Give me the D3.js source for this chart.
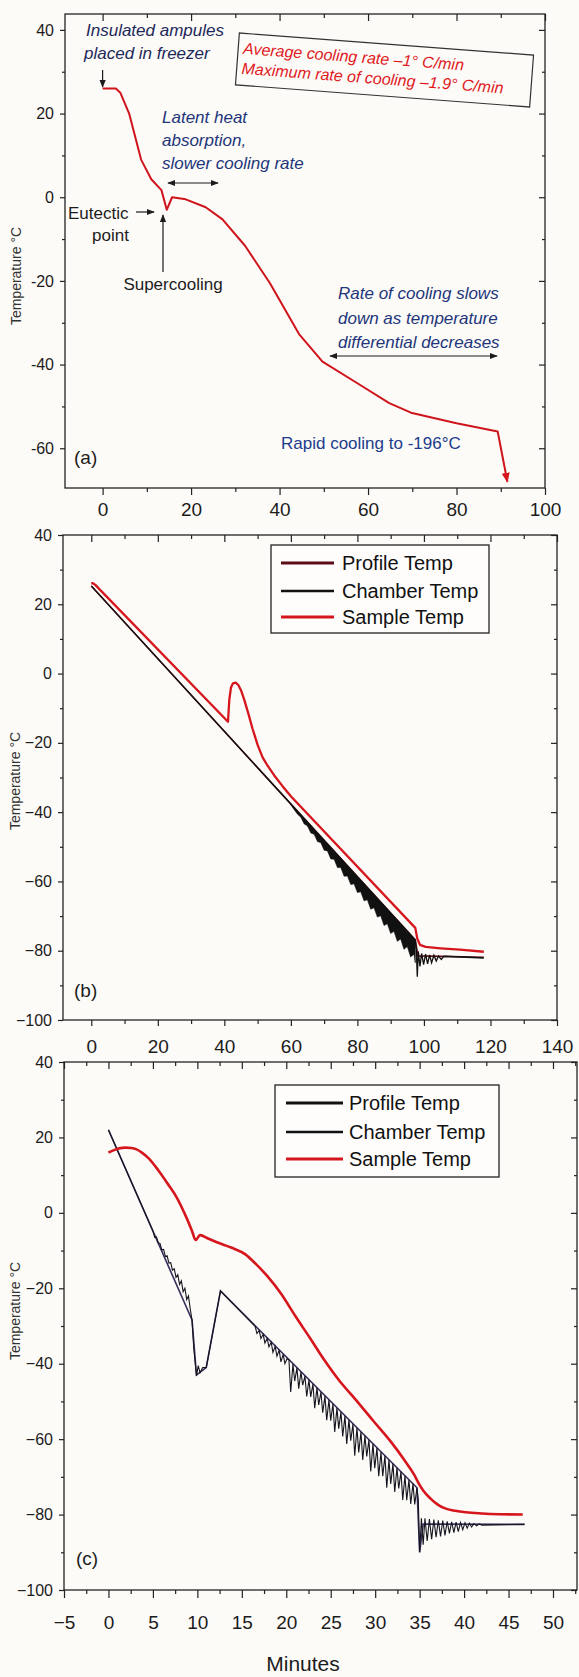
<!DOCTYPE html>
<html><head><meta charset="utf-8">
<script src="https://cdn.jsdelivr.net/npm/d3@7"></script>
<style>
body{margin:0;background:#fcfbf8;}
svg{display:block;}
text{font-family:"Liberation Sans",Arial,Helvetica,sans-serif;}
</style></head>
<body><svg id="chart" width="579" height="1677"></svg>
<script>
// ================= DATA =================
// Panel (a): sample temperature (minutes, °C)
const sampleA = [[0,26],[3,26],[4,25],[6,20],[8.7,9],[11,4.3],[13.3,1.7],[14.5,-3],[15.7,0],[18.8,-0.5],[23.3,-2.4],[27.1,-5.3],[32.2,-11.6],[37.8,-20.5],[44.4,-32.7],[49.7,-39.3],[57.5,-44.4],[64.8,-49.2],[69.7,-51.5],[80,-54],[89.3,-56],[91.5,-68]];
const xTicksA = [0,20,40,60,80,100];
const xMinorA = [10,30,50,70,90];
const yTicksA = [40,20,0,-20,-40,-60];
const yMinorA = [30,10,-10,-30,-50];

// Panel (b)
const profileB = [[0,25.3],[97.4,-76.9],[98.2,-81.5],[118,-81.9]];
const chamberB = [[0,25.3],[97.4,-76.9],[97.7,-79.5],[98.0,-87.5],[98.3,-80.2],[98.8,-84.5],[99.3,-80.8],[99.9,-84.0],[100.5,-81.0],[101.1,-83.8],[101.7,-81.2],[102.3,-83.5],[103.0,-81.3],[103.7,-83.0],[104.4,-81.5],[105.2,-82.5],[106,-81.6],[118,-82.1]];
// chamber oscillation band: [minute, upper, lower]
const chamberBandB = [[60,-37.6,-37.9],[61,-38.7,-39.3],[62,-39.7,-40.6],[63,-40.8,-41.5],[64,-41.8,-43.4],[65,-42.9,-44.0],[66,-43.9,-46.0],[67,-45.0,-46.4],[68,-46.0,-48.5],[69,-47.1,-48.8],[70,-48.1,-51.0],[71,-49.2,-51.2],[72,-50.2,-53.5],[73,-51.3,-53.6],[74,-52.3,-56.0],[75,-53.4,-56.0],[76,-54.4,-58.5],[77,-55.5,-58.4],[78,-56.5,-60.9],[79,-57.6,-60.7],[80,-58.6,-63.2],[81,-59.7,-63.0],[82,-60.7,-65.6],[83,-61.8,-65.3],[84,-62.8,-68.0],[85,-63.9,-67.6],[86,-64.9,-70.3],[87,-66.0,-69.9],[88,-67.0,-72.7],[89,-68.1,-72.2],[90,-69.1,-75.0],[91,-70.2,-74.4],[92,-71.2,-77.3],[93,-72.3,-76.6],[94,-73.3,-79.6],[95,-74.4,-78.8],[96,-75.4,-81.8],[97,-76.5,-81.0],[97.4,-76.9,-83.5]];
const sampleB = [[0,26],[0.5,26.1],[1.2,25.6],[41.1,-13.9],[41.5,-7.5],[42.0,-4.0],[42.6,-2.8],[43.4,-2.6],[44.2,-3.3],[45.0,-4.8],[46.0,-7.6],[47.2,-11.5],[48.5,-16.0],[50,-20.6],[51.5,-24.2],[53,-26.6],[55,-29.4],[57.5,-32.5],[60,-35.4],[97.4,-73.4],[98,-76.5],[98.8,-78.3],[100.5,-78.9],[105,-79.3],[110.8,-79.7],[118,-80.3]];
const xTicksB = [0,20,40,60,80,100,120,140];
const xMinorB = [10,30,50,70,90,110,130];
const yTicksB = [40,20,0,-20,-40,-60,-80,-100];
const yMinorB = [30,10,-10,-30,-50,-70,-90];

// Panel (c)
const profileC = [[0,22],[9.4,-28.4],[9.9,-43],[11,-41],[12.6,-20.7],[34.7,-72.9],[35,-90],[35.4,-82.5],[46.8,-82.6]];
const chamberC = [[0,22],[5.0,-4.8],[5.2,-6.5],[5.4,-6.4],[5.6,-8.0],[5.8,-8.1],[6.0,-9.8],[6.2,-9.7],[6.4,-11.6],[6.6,-11.4],[6.8,-13.3],[7.0,-13.2],[7.2,-15.2],[7.4,-14.8],[7.6,-17.1],[7.8,-16.4],[8.0,-19.0],[8.2,-18.0],[8.4,-20.9],[8.6,-20.0],[8.8,-23.0],[9.0,-22.0],[9.2,-25.5],[9.4,-28.4],[9.6,-36.0],[9.9,-43.2],[10.1,-40.5],[10.3,-42.4],[10.6,-41.0],[11.0,-41.0],[12.6,-20.7],[16.5,-30.1],[16.7,-32.0],[16.95,-31.2],[17.15,-33.3],[17.4,-32.2],[17.6,-34.5],[17.85,-33.3],[18.05,-35.5],[18.3,-34.3],[18.5,-37.0],[18.75,-35.4],[18.95,-38.0],[19.2,-36.4],[19.4,-39.5],[19.65,-37.5],[19.85,-40.0],[20.1,-38.6],[20.30,-39.0],[20.50,-47.5],[20.75,-40.1],[20.95,-44.6],[21.20,-41.1],[21.40,-46.6],[21.65,-42.2],[21.85,-45.7],[22.10,-43.3],[22.30,-48.7],[22.55,-44.3],[22.75,-48.8],[23.00,-45.4],[23.20,-51.8],[23.45,-46.4],[23.65,-50.9],[23.90,-47.5],[24.10,-53.0],[24.35,-48.6],[24.55,-55.0],[24.80,-49.6],[25.00,-55.1],[25.25,-50.7],[25.45,-58.1],[25.70,-51.7],[25.90,-57.2],[26.15,-52.8],[26.35,-59.3],[26.60,-53.8],[26.80,-61.3],[27.05,-54.9],[27.25,-60.4],[27.50,-56.0],[27.70,-64.4],[27.95,-57.0],[28.15,-63.5],[28.40,-58.1],[28.60,-65.5],[28.85,-59.1],[29.05,-64.6],[29.30,-60.2],[29.50,-68.6],[29.75,-61.2],[29.95,-67.7],[30.20,-62.3],[30.40,-69.8],[30.65,-63.4],[30.85,-69.8],[31.10,-64.4],[31.30,-72.9],[31.55,-65.5],[31.75,-71.9],[32.00,-66.5],[32.20,-74.0],[32.45,-67.6],[32.65,-73.1],[32.90,-68.6],[33.10,-76.1],[33.35,-69.7],[33.55,-76.2],[33.80,-70.8],[34.00,-77.2],[34.25,-71.8],[34.45,-77.3],[34.70,-72.9],[34.85,-76.0],[35.00,-90.0],[35.2,-81.0],[35.4,-88.0],[35.6,-81.0],[35.85,-87.0],[36.1,-81.2],[36.35,-86.5],[36.6,-81.3],[36.85,-86.0],[37.1,-81.5],[37.35,-85.8],[37.6,-81.6],[37.85,-85.5],[38.1,-81.8],[38.35,-85.0],[38.6,-81.9],[38.85,-84.8],[39.1,-82.0],[39.35,-84.5],[39.6,-82.1],[39.85,-84.0],[40.1,-82.2],[40.35,-83.6],[40.6,-82.3],[40.85,-83.3],[41.1,-82.4],[41.4,-83.0],[41.7,-82.5],[42.0,-82.8],[46.8,-82.6]];
const sampleC = [[0,16],[0.5,16.5],[1.2,17.1],[1.9,17.3],[2.6,17.2],[3.1,16.9],[3.8,15.9],[4.5,14.5],[5.6,11.3],[6.7,7.6],[7.7,4.0],[8.8,-1.4],[9.4,-4.8],[9.8,-7.2],[10.3,-5.9],[11.2,-6.8],[12.2,-7.8],[13.8,-9.2],[15.4,-11],[16.6,-13.6],[17.8,-16.6],[19.4,-21.4],[21.0,-27.3],[22.7,-33.3],[24.3,-39.1],[26,-44.6],[27.8,-49.5],[29.8,-55.2],[31.8,-60.8],[33.3,-65.6],[34.4,-69.5],[34.8,-71.3],[35.4,-73.6],[36.2,-75.7],[37.0,-77.3],[37.8,-78.3],[39.0,-79.0],[40.2,-79.4],[42,-79.7],[44,-79.9],[46.6,-80]];
const xTicksC = [-5,0,5,10,15,20,25,30,35,40,45,50];
const xMinorC = [-2.5,2.5,7.5,12.5,17.5,22.5,27.5,32.5,37.5,42.5,47.5,52.5];
const yTicksC = [40,20,0,-20,-40,-60,-80,-100];
const yMinorC = [30,10,-10,-30,-50,-70,-90];

const legendLabels = ["Profile Temp","Chamber Temp","Sample Temp"];

// ================= DRAWING =================
const svg = d3.select("#chart");
const INK = "#1c1c1c";
const RED = "#d6161d";
const NAVY = "#22357a";
const minus = v => (v < 0 ? "\u2212" + Math.abs(v) : String(v));
const hyph = v => (v < 0 ? "-" + Math.abs(v) : String(v));

const defs = svg.append("defs");
function marker(id, color, size) {
  defs.append("marker").attr("id", id).attr("viewBox", "0 0 10 10")
    .attr("refX", 9).attr("refY", 5).attr("markerWidth", size).attr("markerHeight", size)
    .attr("markerUnits", "userSpaceOnUse").attr("orient", "auto-start-reverse")
    .append("path").attr("d", "M0,1 L10,5 L0,9 Z").attr("fill", color);
}
marker("arrK", INK, 8);
marker("arrR", RED, 10);

function panel(c) {
  const g = svg.append("g");
  const x = d3.scaleLinear().domain(c.xDomain).range([c.x0, c.x1]);
  const y = d3.scaleLinear().domain(c.yDomain).range([c.y1, c.y0]);
  const style = (sel, fs) => {
    sel.select(".domain").remove();
    sel.attr("font-family", null).attr("font-size", null);
    sel.selectAll("line").attr("stroke", "#222").attr("stroke-width", 1.2);
    sel.selectAll("text").attr("fill", INK).attr("font-size", fs);
  };
  g.append("g").attr("transform", `translate(0,${c.y1})`)
    .call(d3.axisBottom(x).tickValues(c.xTicks).tickSize(c.xTick).tickPadding(c.xPad).tickFormat(c.xFmt))
    .call(s => style(s, c.xFont));
  g.append("g").attr("transform", `translate(0,${c.y1})`)
    .call(d3.axisBottom(x).tickValues(c.xMinor).tickSize(4).tickFormat(""))
    .call(s => style(s, 0));
  g.append("g").attr("transform", `translate(0,${c.y0})`)
    .call(d3.axisTop(x).tickValues(c.xTicks).tickSize(-7).tickFormat(""))
    .call(s => style(s, 0));
  g.append("g").attr("transform", `translate(0,${c.y0})`)
    .call(d3.axisTop(x).tickValues(c.xMinor).tickSize(-4).tickFormat(""))
    .call(s => style(s, 0));
  g.append("g").attr("transform", `translate(${c.x0},0)`)
    .call(d3.axisLeft(y).tickValues(c.yTicks).tickSize(5).tickPadding(6).tickFormat(c.yFmt))
    .call(s => style(s, 16));
  g.append("g").attr("transform", `translate(${c.x0},0)`)
    .call(d3.axisLeft(y).tickValues(c.yMinor).tickSize(3).tickFormat(""))
    .call(s => style(s, 0));
  g.append("g").attr("transform", `translate(${c.x1},0)`)
    .call(d3.axisRight(y).tickValues(c.yTicks).tickSize(-6).tickFormat(""))
    .call(s => style(s, 0));
  g.append("g").attr("transform", `translate(${c.x1},0)`)
    .call(d3.axisRight(y).tickValues(c.yMinor).tickSize(-3).tickFormat(""))
    .call(s => style(s, 0));
  g.append("rect").attr("x", c.x0).attr("y", c.y0)
    .attr("width", c.x1 - c.x0).attr("height", c.y1 - c.y0)
    .attr("fill", "none").attr("stroke", "#222").attr("stroke-width", 1.3);
  g.append("text").attr("transform", `translate(${c.titleX},${c.titleY}) rotate(-90)`)
    .attr("text-anchor", "middle").attr("dominant-baseline", "central")
    .attr("font-size", 14).attr("fill", "#333").text("Temperature \u00B0C");
  g.append("text").attr("x", c.tagX).attr("y", c.tagY).attr("dominant-baseline", "central")
    .attr("font-size", 19).attr("fill", INK).text(c.tag);
  const line = d3.line().x(d => x(d[0])).y(d => y(d[1]));
  return { g, x, y, line };
}

// ---------- Panel (a) ----------
const A = panel({x0:65, x1:545, y0:14, y1:488, xDomain:[-8.5,100], yDomain:[-69.5,43.8],
  xTicks:xTicksA, xMinor:xMinorA, yTicks:yTicksA, yMinor:yMinorA,
  xFmt:hyph, yFmt:hyph, xTick:7, xPad:8, xFont:19,
  titleX:16, titleY:276, tag:"(a)", tagX:74, tagY:457});
A.g.append("path").datum(sampleA).attr("d", A.line)
  .attr("fill", "none").attr("stroke", "#cf141c").attr("stroke-width", 2)
  .attr("stroke-linejoin", "round").attr("marker-end", "url(#arrR)");

const ann = A.g.append("g");
function txt(x, y, s, opt = {}) {
  return ann.append("text").attr("x", x).attr("y", y).attr("dominant-baseline", "central")
    .attr("font-size", opt.fs || 17).attr("fill", opt.fill || NAVY)
    .attr("font-style", opt.it ? "italic" : "normal")
    .attr("text-anchor", opt.anchor || "start").text(s);
}
function arrow(x1, y1, x2, y2, both) {
  ann.append("line").attr("x1", x1).attr("y1", y1).attr("x2", x2).attr("y2", y2)
    .attr("stroke", INK).attr("stroke-width", 1.2)
    .attr("marker-end", "url(#arrK)").attr("marker-start", both ? "url(#arrK)" : null);
}
txt(86, 30, "Insulated ampules", {it:true, fill:"#1e2858"});
txt(84, 53, "placed in freezer", {it:true, fill:"#1e2858"});
arrow(A.x(0), 70, A.x(0), 87);

const box = ann.append("g").attr("transform", "rotate(4.3,384.5,70)");
box.append("rect").attr("x", 237).attr("y", 44).attr("width", 295).attr("height", 52)
  .attr("fill", "none").attr("stroke", "#333").attr("stroke-width", 1.2);
box.append("text").attr("x", 242).attr("y", 59).attr("dominant-baseline", "central")
  .attr("font-size", 16).attr("font-style", "italic").attr("fill", "#e0181c")
  .text("Average cooling rate \u20131\u00B0 C/min");
box.append("text").attr("x", 242).attr("y", 79).attr("dominant-baseline", "central")
  .attr("font-size", 16).attr("font-style", "italic").attr("fill", "#e0181c")
  .text("Maximum rate of cooling \u20131.9\u00B0 C/min");

txt(162, 117, "Latent heat", {it:true});
txt(162, 140, "absorption,", {it:true});
txt(162, 163, "slower cooling rate", {it:true});
arrow(168, 183, 218, 183, true);

txt(68, 213, "Eutectic", {fill:INK});
txt(92, 235, "point", {fill:INK});
arrow(136, 212, 154, 212);
arrow(163, 272, 163, 215);
txt(173, 284, "Supercooling", {fill:INK, anchor:"middle"});

txt(338, 293, "Rate of cooling slows", {it:true});
txt(338, 318, "down as temperature", {it:true});
txt(338, 342, "differential decreases", {it:true});
arrow(330, 356, 497, 356, true);
txt(281, 443, "Rapid cooling to -196\u00B0C", {fill:"#203c8c"});

// ---------- Panel (b) ----------
const B = panel({x0:63, x1:557, y0:535, y1:1020, xDomain:[-8.5,140], yDomain:[-100,40],
  xTicks:xTicksB, xMinor:xMinorB, yTicks:yTicksB, yMinor:yMinorB,
  xFmt:minus, yFmt:minus, xTick:6, xPad:14, xFont:19,
  titleX:15, titleY:781, tag:"(b)", tagX:74, tagY:990});
B.g.append("path").datum(profileB).attr("d", B.line)
  .attr("fill", "none").attr("stroke", "#5c0d16").attr("stroke-width", 1.6);
B.g.append("path").datum(chamberBandB)
  .attr("d", d3.area().x(d => B.x(d[0])).y0(d => B.y(d[1])).y1(d => B.y(d[2])))
  .attr("fill", "#111").attr("stroke", "#111").attr("stroke-width", 0.6);
B.g.append("path").datum(chamberB).attr("d", B.line)
  .attr("fill", "none").attr("stroke", "#111").attr("stroke-width", 1.3);
B.g.append("path").datum(sampleB).attr("d", B.line)
  .attr("fill", "none").attr("stroke", RED).attr("stroke-width", 2.3)
  .attr("stroke-linejoin", "round");

function legend(P, bx, by, bw, bh, lx0, lx1, tx, rows, colors, widths) {
  const lg = P.g.append("g");
  lg.append("rect").attr("x", bx).attr("y", by).attr("width", bw).attr("height", bh)
    .attr("fill", "#fff").attr("fill-opacity", 0.6).attr("stroke", "#222").attr("stroke-width", 1.3);
  legendLabels.forEach((lab, i) => {
    lg.append("line").attr("x1", lx0).attr("x2", lx1).attr("y1", rows[i]).attr("y2", rows[i])
      .attr("stroke", colors[i]).attr("stroke-width", widths[i]);
    lg.append("text").attr("x", tx).attr("y", rows[i]).attr("dominant-baseline", "central")
      .attr("font-size", 20).attr("fill", "#111").text(lab);
  });
}
legend(B, 271, 545, 218, 88, 281, 334, 342, [563, 591, 617],
  ["#5c0d16", "#111", RED], [3, 2.5, 3]);

// ---------- Panel (c) ----------
const C = panel({x0:64, x1:577, y0:1062, y1:1590, xDomain:[-5,52.7], yDomain:[-100,40],
  xTicks:xTicksC, xMinor:xMinorC, yTicks:yTicksC, yMinor:yMinorC,
  xFmt:minus, yFmt:minus, xTick:8, xPad:18, xFont:19,
  titleX:15, titleY:1311, tag:"(c)", tagX:76, tagY:1558});
C.g.append("path").datum(profileC).attr("d", C.line)
  .attr("fill", "none").attr("stroke", "#3b2d5c").attr("stroke-width", 1.6);
C.g.append("path").datum(chamberC).attr("d", C.line)
  .attr("fill", "none").attr("stroke", "#15151f").attr("stroke-width", 1.1);
C.g.append("path").datum(sampleC).attr("d", C.line.curve(d3.curveMonotoneX))
  .attr("fill", "none").attr("stroke", RED).attr("stroke-width", 2.6);
C.line.curve(d3.curveLinear);
legend(C, 275, 1085, 224, 92, 286, 343, 349, [1103, 1132, 1159],
  ["#111", "#111", RED], [3.2, 2.5, 3.2]);

svg.append("text").attr("x", 303).attr("y", 1663).attr("text-anchor", "middle")
  .attr("dominant-baseline", "central").attr("font-size", 21).attr("fill", INK).text("Minutes");
</script>
</body></html>
